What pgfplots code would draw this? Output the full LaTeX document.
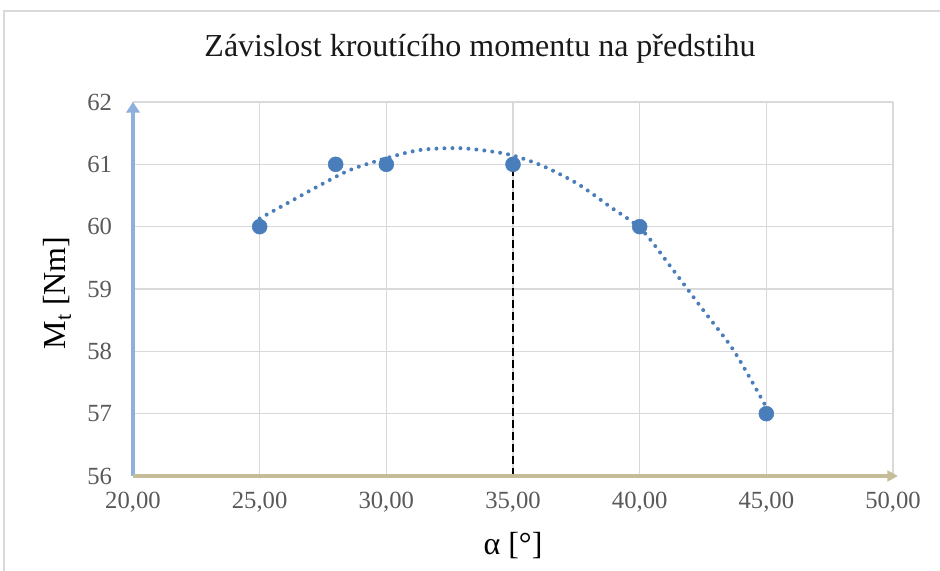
\documentclass[border=0pt]{standalone}
\usepackage{fontspec}
\setmainfont{Liberation Serif}
\usepackage{pgfplots}
\pgfplotsset{compat=1.18}
\usetikzlibrary{arrows.meta}

\definecolor{mkblue}{HTML}{4A7EBB}
\definecolor{gridgray}{HTML}{D9D9D9}
\definecolor{ticktext}{HTML}{595959}
\definecolor{yaxisblue}{HTML}{8EB0DC}
\definecolor{xaxiskhaki}{HTML}{C4BD97}

\begin{document}
\begin{tikzpicture}[x=0.75pt,y=0.75pt]
% page = 940 x 571 px, axis origin at px (133,476)
\path[use as bounding box] (-133,-95) rectangle (807,476);
\draw[gridgray, line width=1pt] (-129,-140) rectangle (850,465);

\begin{axis}[
    at={(0,0)}, anchor=south west,
    scale only axis,
    width=570pt, height=280.5pt,
    xmin=20, xmax=50, ymin=56, ymax=62,
    xtick={20,25,...,50}, ytick={56,57,...,62},
    axis lines*=left,
    axis line style={draw=none},
    grid=major,
    major grid style={gridgray, line width=1.2pt},
    tick style={draw=none},
    /pgf/number format/assume math mode=true,
    tick label style={font=\fontsize{18.5}{18.5}\selectfont, text=ticktext, inner sep=0pt},
    x tick label style={anchor=center, yshift=-20pt,
        /pgf/number format/.cd, fixed, fixed zerofill, precision=2, use comma, /tikz/.cd},
    y tick label style={anchor=east, xshift=-15.5pt,
        /pgf/number format/.cd, fixed, precision=0, /tikz/.cd},
    clip=false,
]
\addplot[only marks, mark=*, mark size=5.6pt, mkblue] coordinates {
    (25,60) (28,61) (30,61) (35,61) (40,60) (45,57)
};
% polynomial trendline
\addplot[mkblue, line width=3pt, line cap=round, dash pattern=on 0pt off 6pt, smooth] coordinates {
    (25,60.13) (26.33,60.43) (27.45,60.68) (28.57,60.91) (30.01,61.10)
    (31.33,61.23) (32.84,61.26) (34.09,61.21) (35.01,61.14) (36.20,60.97)
    (37.58,60.68) (38.83,60.32) (40.08,59.95) (41.33,59.30) (42.51,58.66)
    (43.70,58.02) (44.88,57.19) (45,57.08)
};
\addplot[black, line width=1.5pt, dash pattern=on 6pt off 3pt] coordinates {(35,56) (35,61)};
% axis lines with arrows, on top of the grid
\draw[yaxisblue, line width=3pt, -{Triangle[length=8pt,width=10pt]}] (axis cs:20,56) -- (axis cs:20,62);
\draw[xaxiskhaki, line width=3pt, -{Triangle[length=8pt,width=8pt]}] (axis cs:20,56) -- (axis cs:50.2,56);
\end{axis}

\node[anchor=base, font=\fontsize{24}{24}\selectfont, text=black!90] at (347,419)
    {Závislost kroutícího momentu na předstihu};
\node[anchor=base, rotate=90, font=\fontsize{24}{24}\selectfont] at (-67,183)
    {M\textsubscript{t} [Nm]};
\node[anchor=base, font=\fontsize{24}{24}\selectfont] at (380,-79)
    {α [°]};
\end{tikzpicture}
\end{document}
